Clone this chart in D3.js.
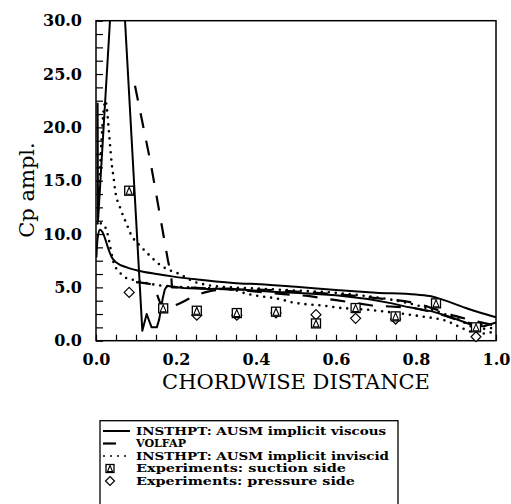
<!DOCTYPE html>
<html>
<head>
<meta charset="utf-8">
<script src="https://cdn.jsdelivr.net/npm/d3@7/dist/d3.min.js"></script>
<style>
  html, body { margin: 0; padding: 0; background: #fff; }
  svg { display: block; }
</style>
</head>
<body>
<svg id="chart" width="511" height="504"></svg>
<script>
// Unsteady pressure amplitude along the chord

// INSTHPT AUSM implicit viscous, two branches
const viscousUpper = [
  [0.001, 7.8], [0.004, 9.6], [0.01, 10.4], [0.016, 10.2], [0.0225, 9.6],
  [0.031, 8.6], [0.039, 7.85], [0.052, 7.3], [0.077, 6.87], [0.106, 6.56],
  [0.152, 6.25], [0.19, 6.03], [0.26, 5.72], [0.36, 5.37], [0.41, 5.3],
  [0.5, 5.05], [0.6, 4.75], [0.7, 4.5], [0.8, 4.32], [0.84, 4.15],
  [0.87, 3.8], [0.93, 3.0], [1.0, 2.2]
];
const viscousLower = [
  [0.004, 22.3], [0.005, 11.2], [0.0544, 42.2], [0.1158, 0.94], [0.1267, 2.5],
  [0.139, 1.25], [0.152, 1.25], [0.158, 2.0], [0.163, 3.1], [0.167, 4.0],
  [0.172, 4.8], [0.178, 5.16], [0.19, 5.05], [0.22, 4.95], [0.28, 4.85],
  [0.33, 4.9], [0.36, 4.8], [0.44, 4.6], [0.52, 4.45], [0.6, 4.25],
  [0.68, 3.9], [0.74, 3.5], [0.78, 3.15], [0.84, 2.75], [0.88, 2.3],
  [0.92, 1.75], [0.945, 1.4], [0.97, 1.35], [1.0, 1.72]
];

// VOLFAP, two branches
const volfapUpper = [
  [0.0975, 23.9], [0.137, 16.6], [0.18, 7.5], [0.188, 6.1], [0.19, 5.0],
  [0.22, 5.0], [0.28, 4.9], [0.36, 4.75], [0.44, 4.45], [0.53, 4.2],
  [0.6, 3.8], [0.69, 3.3], [0.79, 3.1], [0.85, 2.6], [0.9, 2.0],
  [0.95, 1.5], [1.0, 1.6]
];
const volfapLower = [
  [0.1, 5.5], [0.14, 5.25], [0.17, 3.0], [0.206, 3.44], [0.24, 4.06],
  [0.28, 4.6], [0.33, 4.8], [0.4, 4.8], [0.5, 4.6], [0.6, 4.35],
  [0.7, 4.0], [0.8, 3.5], [0.9, 2.3], [1.0, 1.4]
];

// INSTHPT AUSM implicit inviscid, two branches
const inviscidUpper = [
  [0.004, 11.0], [0.024, 22.5], [0.0267, 21.9], [0.031, 20.2], [0.035, 18.4],
  [0.039, 16.7], [0.045, 15.0], [0.0475, 14.2], [0.06, 12.5], [0.068, 11.7],
  [0.077, 10.9], [0.085, 10.15], [0.114, 8.75], [0.131, 8.1], [0.1475, 7.5],
  [0.164, 7.0], [0.185, 6.6], [0.206, 6.3], [0.2475, 5.5], [0.268, 5.3],
  [0.3, 5.1], [0.4, 4.9], [0.5, 4.7], [0.585, 4.53], [0.668, 4.22],
  [0.752, 3.75], [0.835, 2.97], [0.9, 2.1], [0.96, 1.1], [1.0, 1.25]
];
const inviscidLower = [
  [0.012, 11.0], [0.02, 10.9], [0.025, 10.47], [0.031, 9.7], [0.035, 8.9],
  [0.045, 7.2], [0.056, 6.56], [0.0725, 5.94], [0.093, 5.7], [0.118, 5.47],
  [0.164, 5.16], [0.23, 5.0], [0.3, 4.9], [0.335, 4.84], [0.38, 4.37],
  [0.405, 4.2], [0.46, 3.9], [0.49, 3.6], [0.52, 3.44], [0.57, 3.28],
  [0.6, 3.12], [0.68, 2.9], [0.75, 2.6], [0.81, 2.3], [0.88, 1.8],
  [0.92, 1.1], [0.96, 0.65], [1.0, 0.9]
];

// Experiments
const suctionSide = [
  [0.083, 14.06], [0.168, 3.03], [0.252, 2.81], [0.352, 2.59], [0.45, 2.72],
  [0.55, 1.62], [0.649, 3.06], [0.749, 2.28], [0.85, 3.5], [0.95, 1.25]
];
const pressureSide = [
  [0.083, 4.53], [0.252, 2.39], [0.352, 2.39], [0.45, 2.6], [0.55, 2.44],
  [0.649, 2.1], [0.749, 2.03], [0.95, 0.37]
];

const xTicks = [0.0, 0.2, 0.4, 0.6, 0.8, 1.0];
const yTicks = [0, 5, 10, 15, 20, 25, 30];

const legendItems = [
  { label: "INSTHPT: AUSM implicit viscous", kind: "solid", width: 250 },
  { label: "VOLFAP", kind: "dashed", width: 50 },
  { label: "INSTHPT: AUSM implicit inviscid", kind: "dotted", width: 253 },
  { label: "Experiments: suction side", kind: "square", width: 210 },
  { label: "Experiments: pressure side", kind: "diamond", width: 219 }
];

const svg = d3.select("#chart");
const plot = { left: 96, right: 496, top: 20.7, bottom: 340.7 };

const x = d3.scaleLinear().domain([0, 1]).range([plot.left, plot.right]);
const y = d3.scaleLinear().domain([0, 30]).range([plot.bottom, plot.top]);

const serif = "'DejaVu Serif', serif";

svg.append("defs").append("clipPath").attr("id", "plotClip")
  .append("rect")
  .attr("x", plot.left).attr("y", plot.top)
  .attr("width", plot.right - plot.left).attr("height", plot.bottom - plot.top);

// Minor ticks on the left and bottom edges, pointing inward
const yMinor = d3.range(0, 30.001, 1.25);
svg.append("g")
  .attr("transform", `translate(${plot.left},0)`)
  .call(d3.axisRight(y).tickValues(yMinor).tickSize(7).tickFormat(""))
  .call(g => g.select(".domain").remove())
  .selectAll("line").attr("stroke", "#000").attr("stroke-width", 1.2);

const xMinor = d3.range(0, 1.0001, 0.05);
svg.append("g")
  .attr("transform", `translate(0,${plot.bottom})`)
  .call(d3.axisTop(x).tickValues(xMinor).tickSize(6).tickFormat(""))
  .call(g => g.select(".domain").remove())
  .selectAll("line").attr("stroke", "#000").attr("stroke-width", 1.2);

// Tick labels
svg.append("g")
  .attr("transform", `translate(0,${plot.bottom})`)
  .call(d3.axisBottom(x).tickValues(xTicks).tickSize(0).tickPadding(13).tickFormat(d3.format(".1f")))
  .call(g => g.select(".domain").remove())
  .selectAll("text")
  .attr("font-family", serif).attr("font-weight", "bold")
  .attr("font-size", 16).attr("fill", "#000");

svg.append("g")
  .attr("transform", `translate(${plot.left},0)`)
  .call(d3.axisLeft(y).tickValues(yTicks).tickSize(0).tickPadding(14).tickFormat(d3.format(".1f")))
  .call(g => g.select(".domain").remove())
  .selectAll("text")
  .attr("font-family", serif).attr("font-weight", "bold")
  .attr("font-size", 16).attr("fill", "#000");

// Frame
svg.append("rect")
  .attr("x", plot.left).attr("y", plot.top)
  .attr("width", plot.right - plot.left).attr("height", plot.bottom - plot.top)
  .attr("fill", "none").attr("stroke", "#000").attr("stroke-width", 1.5);

// Axis titles
svg.append("text")
  .attr("x", (plot.left + plot.right) / 2).attr("y", 389)
  .attr("text-anchor", "middle")
  .attr("font-family", serif).attr("font-size", 21)
  .text("CHORDWISE DISTANCE");

svg.append("text")
  .attr("transform", "translate(34,190) rotate(-90)")
  .attr("text-anchor", "middle")
  .attr("font-family", serif).attr("font-size", 21)
  .text("Cp ampl.");

// Curves
const curves = svg.append("g").attr("clip-path", "url(#plotClip)");

const styles = {
  solid: { dash: null, width: 2, cap: "butt" },
  dashed: { dash: "15,13", width: 2.2, cap: "butt" },
  dotted: { dash: "0,7", width: 2.6, cap: "round" }
};

function drawCurve(data, kind, curve) {
  const s = styles[kind];
  const line = d3.line().x(d => x(d[0])).y(d => y(d[1])).curve(curve);
  curves.append("path")
    .datum(data)
    .attr("d", line)
    .attr("fill", "none")
    .attr("stroke", "#000")
    .attr("stroke-width", s.width)
    .attr("stroke-linecap", s.cap)
    .attr("stroke-linejoin", "round")
    .attr("stroke-dasharray", s.dash);
}

drawCurve(viscousUpper, "solid", d3.curveMonotoneX);
drawCurve(viscousLower, "solid", d3.curveLinear);
drawCurve(volfapUpper, "dashed", d3.curveLinear);
drawCurve(volfapLower, "dashed", d3.curveMonotoneX);
drawCurve(inviscidUpper, "dotted", d3.curveMonotoneX);
drawCurve(inviscidLower, "dotted", d3.curveMonotoneX);

// Markers
function squareTriangle(g, cx, cy, s) {
  g.append("rect")
    .attr("x", cx - s / 2).attr("y", cy - s / 2)
    .attr("width", s).attr("height", s)
    .attr("fill", "#fff").attr("stroke", "#000").attr("stroke-width", 1.3);
  g.append("path")
    .attr("d", `M${cx - s / 2 + 1.5},${cy + s / 2 - 1} L${cx},${cy - s / 2 + 1} L${cx + s / 2 - 1.5},${cy + s / 2 - 1} Z`)
    .attr("fill", "none").attr("stroke", "#000").attr("stroke-width", 1.1);
}
function diamond(g, cx, cy, r) {
  g.append("path")
    .attr("d", `M${cx},${cy - r} L${cx + r},${cy} L${cx},${cy + r} L${cx - r},${cy} Z`)
    .attr("fill", "#fff").attr("stroke", "#000").attr("stroke-width", 1.2);
}

const marks = svg.append("g");
pressureSide.forEach(d => diamond(marks, x(d[0]), y(d[1]), 5));
suctionSide.forEach(d => squareTriangle(marks, x(d[0]), y(d[1]), 9));

// Legend
const legend = svg.append("g");
legend.append("rect")
  .attr("x", 100).attr("y", 420.7)
  .attr("width", 298).attr("height", 100)
  .attr("fill", "#fff").attr("stroke", "#000").attr("stroke-width", 1.3);

const rowY = d3.scalePoint().domain(d3.range(legendItems.length)).range([431, 481]);
legendItems.forEach((item, i) => {
  const cy = rowY(i);
  if (item.kind === "solid") {
    legend.append("line").attr("x1", 103).attr("x2", 130).attr("y1", cy).attr("y2", cy)
      .attr("stroke", "#000").attr("stroke-width", 2);
  } else if (item.kind === "dashed") {
    legend.append("line").attr("x1", 103).attr("x2", 116).attr("y1", cy).attr("y2", cy)
      .attr("stroke", "#000").attr("stroke-width", 2.2);
  } else if (item.kind === "dotted") {
    legend.append("line").attr("x1", 104).attr("x2", 128).attr("y1", cy).attr("y2", cy)
      .attr("stroke", "#000").attr("stroke-width", 2).attr("stroke-linecap", "round")
      .attr("stroke-dasharray", "0,7");
  } else if (item.kind === "square") {
    squareTriangle(legend, 110, cy, 8);
  } else {
    diamond(legend, 110, cy, 4.5);
  }
  legend.append("text")
    .attr("x", 136).attr("y", cy)
    .attr("dy", "0.36em")
    .attr("font-family", serif).attr("font-weight", "bold")
    .attr("font-size", 10.5)
    .attr("textLength", item.width)
    .attr("lengthAdjust", "spacingAndGlyphs")
    .text(item.label);
});
</script>
</body>
</html>
